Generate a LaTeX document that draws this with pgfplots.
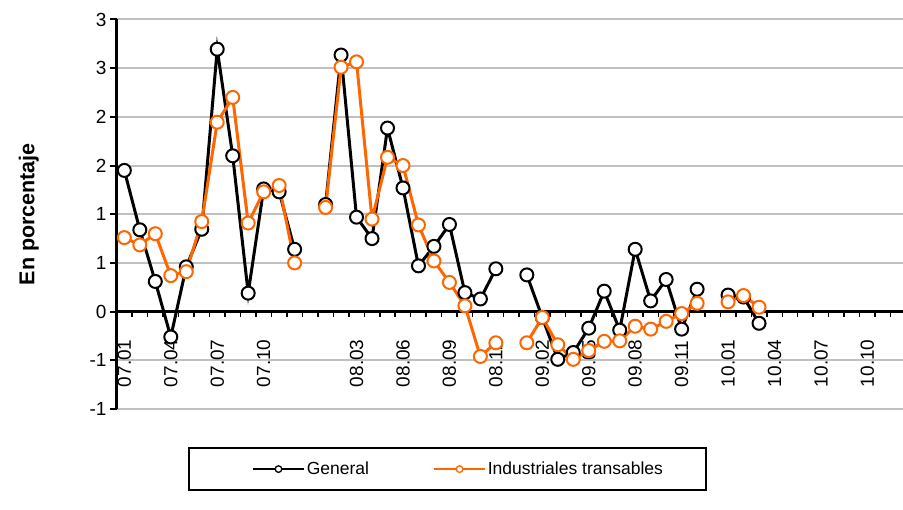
\documentclass[border=0pt]{standalone}
\usepackage{fontspec}
\setmainfont{Liberation Sans}
\usepackage{pgfplots}
\usepackage{pgfplotstable}
\pgfplotsset{compat=1.18}
\definecolor{orng}{HTML}{FF6600}
\definecolor{gridgray}{HTML}{C0C0C0}

\pgfplotstableread{
x gen ind
0 1.45 0.76
1 0.84 0.685
2 0.31 0.80
3 -0.26 0.37
4 0.46 0.41
5 0.846 0.925
6 2.695 1.945
7 1.60 2.20
8 0.19 0.91
9 1.26 1.23
10 1.23 1.295
11 0.64 0.50
12 nan nan
13 1.10 1.07
14 2.635 2.51
15 0.97 2.565
16 0.75 0.95
17 1.885 1.585
18 1.27 1.50
19 0.47 0.89
20 0.67 0.52
21 0.895 0.30
22 0.195 0.06
23 0.13 -0.46
24 0.44 -0.32
25 nan nan
26 0.377 -0.32
27 -0.06 -0.06
28 -0.49 -0.34
29 -0.42 -0.49
30 -0.17 -0.40
31 0.21 -0.305
32 -0.19 -0.30
33 0.64 -0.15
34 0.11 -0.18
35 0.33 -0.10
36 -0.18 -0.02
37 0.23 0.085
38 nan nan
39 0.17 0.10
40 0.15 0.165
41 -0.12 0.045
}\datatab

\begin{document}
\begin{tikzpicture}
\begin{axis}[
  at={(0pt,0pt)}, anchor=south west,
  scale only axis, width=786.4pt, height=389.5pt,
  xmin=-0.5, xmax=50.3, ymin=-1, ymax=3,
  axis x line*=middle, axis y line*=left,
  axis line style={line width=2.5pt, black},
  hide obscured x ticks=false, hide obscured y ticks=false,
  xtick={0,3,6,9,15,18,21,24,27,30,33,36,39,42,45,48},
  xticklabels={07.01,07.04,07.07,07.10,08.03,08.06,08.09,08.12,09.02,09.05,09.08,09.11,10.01,10.04,10.07,10.10},
  minor xtick={0.5,1.5,...,49.5},
  x tick style={draw=none},
  minor x tick style={line width=1.5pt, black, draw=black},
  minor tick length=5pt,
  xtick align=outside,
  ytick={-1,-0.5,0,0.5,1,1.5,2,2.5,3},
  yticklabels={-1,-1,0,1,1,2,2,3,3},
  ytick align=outside,
  major tick length=6.5pt,
  y tick style={line width=2pt, black},
  ymajorgrids=true,
  major grid style={draw=gridgray, line width=2pt},
  tick label style={font=\fontsize{19}{22}\selectfont},
  xticklabel style={rotate=90, anchor=west},
  xticklabel shift=72.5pt,
  every axis y label/.style={at={(axis description cs:-0.1115,0.5)}, rotate=90, anchor=center, font=\bfseries\fontsize{21.5}{25}\selectfont},
  ylabel={En porcentaje},
  unbounded coords=jump,
  legend columns=2,
  legend style={at={(axis description cs:0.0908,-0.0976)}, anchor=north west,
    draw=black, line width=2pt, inner xsep=41pt, inner ysep=12pt,
    font=\fontsize{17.5}{21}\selectfont,
    /tikz/every even column/.append style={column sep=40pt}},
  legend image code/.code={
    \path[draw=none, fill=none] (0pt,-6pt) rectangle (74pt,6pt);
    \draw[mark repeat=2, mark phase=2, #1, line width=1.6pt, mark size=3.3pt, mark options={fill=white, line width=1.3pt, solid}] plot coordinates {(23pt,0pt) (48.5pt,0pt) (74pt,0pt)};
  },
]
\addplot[black, line width=3pt, mark=*, mark size=6.5pt, mark options={fill=white, line width=2pt}] table[x=x, y=gen]{\datatab};
\addlegendentry{General}
\addplot[orng, line width=3pt, mark=*, mark size=6.5pt, mark options={fill=white, line width=2pt}] table[x=x, y=ind]{\datatab};
\addlegendentry{Industriales transables}
\end{axis}
\pgfresetboundingbox
\path[use as bounding box] (-116.6pt,-101pt) rectangle (786.4pt,409pt);
\end{tikzpicture}
\end{document}
